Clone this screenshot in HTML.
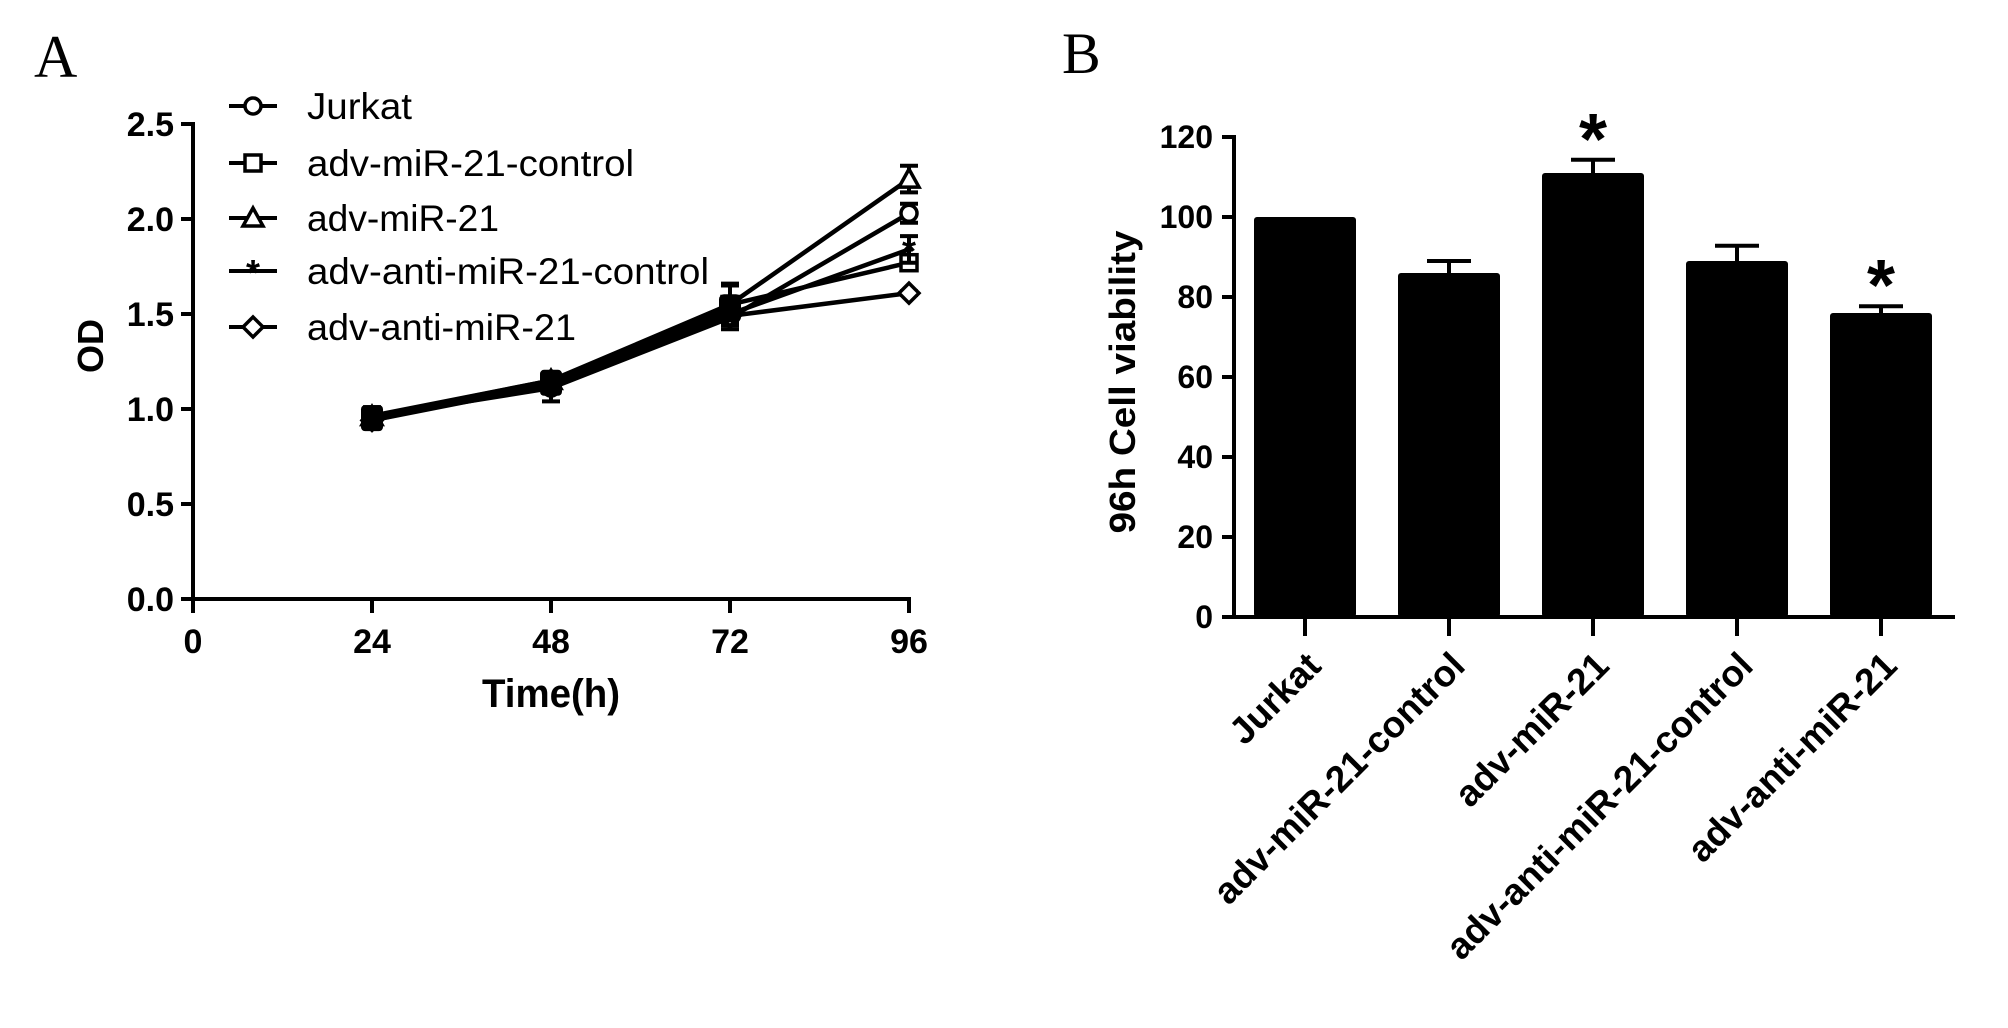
<!DOCTYPE html>
<html><head><meta charset="utf-8"><style>
html,body{margin:0;padding:0;background:#fff;}
svg{display:block;font-family:"Liberation Sans",Arial,sans-serif;}
</style></head><body>
<svg id="fig" width="2008" height="1028" viewBox="0 0 2008 1028" xmlns="http://www.w3.org/2000/svg">
<rect width="2008" height="1028" fill="#fff"/>
<text x="34" y="77" font-family="Liberation Serif,serif" font-size="60">A</text>
<text x="1062" y="73" font-family="Liberation Serif,serif" font-size="58">B</text>
<g id="chartA"></g>
<g id="chartB"></g>
</svg>
<script>
// ---------- Panel A data ----------
const timesA = [24, 48, 72, 96];
const xTicksA = [0, 24, 48, 72, 96];
const yTicksA = [0, 0.5, 1.0, 1.5, 2.0, 2.5];
const seriesNames = ["Jurkat", "adv-miR-21-control", "adv-miR-21", "adv-anti-miR-21-control", "adv-anti-miR-21"];
const jurkatVals = [0.96, 1.11, 1.48, 2.03];
const mirCtrlVals = [0.95, 1.14, 1.55, 1.77];
const mirVals = [0.96, 1.15, 1.55, 2.21];
const antiCtrlVals = [0.95, 1.15, 1.50, 1.84];
const antiVals = [0.94, 1.14, 1.49, 1.61];
const jurkatErr = [0.05, 0.07, 0.06, 0.05];
const mirCtrlErr = [0.03, 0.04, 0.10, 0.03];
const mirErr = [0.04, 0.04, 0.11, 0.07];
const antiCtrlErr = [0.03, 0.03, 0.05, 0.07];
const antiErr = [0.02, 0.03, 0.04, 0.01];
const legendWidths = [105, 327, 192, 402, 269];

// ---------- Panel B data ----------
const categoriesB = ["Jurkat", "adv-miR-21-control", "adv-miR-21", "adv-anti-miR-21-control", "adv-anti-miR-21"];
const valuesB = [100, 86, 111, 89, 76];
const errorsB = [0, 3, 3.3, 3.8, 1.7];
const signifB = [false, false, true, false, true];
const yTicksB = [0, 20, 40, 60, 80, 100, 120];

const NS = "http://www.w3.org/2000/svg";
function mk(parent, tag, attrs, text) {
  const e = document.createElementNS(NS, tag);
  for (const k in attrs) e.setAttribute(k, attrs[k]);
  if (text !== undefined) e.textContent = text;
  parent.appendChild(e);
  return e;
}

// ---------- Panel A ----------
const gA = document.getElementById('chartA');
const xA = t => 193 + t * (909 - 193) / 96;
const yA = v => 599 - v * 190;
let el;
el = mk(gA, 'line', {x1: 193, y1: yA(2.5) - 2, x2: 193, y2: 601, stroke: '#000', 'stroke-width': 4});


el = mk(gA, 'line', {x1: 191, y1: 599, x2: 911, y2: 599, stroke: '#000', 'stroke-width': 4});


yTicksA.forEach(v => {
  mk(gA, 'line', {x1: 181, y1: yA(v), x2: 193, y2: yA(v), stroke: '#000', 'stroke-width': 4});
  el = mk(gA, 'text', {x: 174, y: yA(v) + 12, 'text-anchor': 'end', 'font-size': 34, 'font-weight': 'bold'}, v.toFixed(1));
  
  
});
xTicksA.forEach(t => {
  mk(gA, 'line', {x1: xA(t), y1: 599, x2: xA(t), y2: 613, stroke: '#000', 'stroke-width': 4});
  el = mk(gA, 'text', {x: xA(t), y: 653, 'text-anchor': 'middle', 'font-size': 34, 'font-weight': 'bold'}, String(t));
  
  
});
el = mk(gA, 'text', {x: 551, y: 707, 'text-anchor': 'middle', 'font-size': 40, 'font-weight': 'bold', textLength: 138, lengthAdjust: 'spacingAndGlyphs'}, 'Time(h)');


el = mk(gA, 'text', {x: 0, y: 0, 'text-anchor': 'middle', 'font-size': 36, 'font-weight': 'bold', transform: 'translate(103,346) rotate(-90)'}, 'OD');



function marker(g, kind, cx, cy) {
  const s = {fill: '#fff', stroke: '#000', 'stroke-width': 3.5};
  if (kind === 0) return mk(g, 'circle', Object.assign({cx, cy, r: 8}, s));
  if (kind === 1) return mk(g, 'rect', Object.assign({x: cx - 8, y: cy - 8, width: 16, height: 16}, s));
  if (kind === 2) return mk(g, 'path', Object.assign({d: `M${cx},${cy - 10}L${cx + 10},${cy + 8}L${cx - 10},${cy + 8}Z`}, s));
  if (kind === 3) return mk(g, 'text', {x: cx, y: cy + 14, 'text-anchor': 'middle', 'font-size': 36, 'font-weight': 'bold'}, '*');
  return mk(g, 'path', Object.assign({d: `M${cx},${cy - 10}L${cx + 10},${cy}L${cx},${cy + 10}L${cx - 10},${cy}Z`}, s));
}

const allVals = [jurkatVals, mirCtrlVals, mirVals, antiCtrlVals, antiVals];
const allErr = [jurkatErr, mirCtrlErr, mirErr, antiCtrlErr, antiErr];
const seriesKeys = ['jurkat', 'mir-control', 'mir21', 'anti-control', 'anti-mir21'];
allVals.forEach((vals, si) => {
  const g = mk(gA, 'g', {});
  
  
  const pts = vals.map((v, i) => xA(timesA[i]) + ',' + yA(v)).join(' ');
  el = mk(g, 'polyline', {points: pts, fill: 'none', stroke: '#000', 'stroke-width': 4.5});
  
  
  vals.forEach((v, i) => {
    const x = xA(timesA[i]), e = allErr[si][i];
    el = mk(g, 'path', {d: `M${x},${yA(v + e)}V${yA(v - e)}M${x - 9},${yA(v + e)}H${x + 9}M${x - 9},${yA(v - e)}H${x + 9}`, stroke: '#000', 'stroke-width': 4, fill: 'none'});
    
    
    const m = marker(g, si, x, yA(v));
    
    
  });
});
// overlapping early segment appears thick
el = mk(gA, 'polyline', {points: [0,1,2].map(i => xA(timesA[i]) + ',' + yA(allVals.reduce((s, a) => s + a[i], 0) / allVals.length)).join(' '), fill: 'none', stroke: '#000', 'stroke-width': 9});


[0, 1].forEach(i => {
  const mean = allVals.reduce((s, a) => s + a[i], 0) / allVals.length;
  el = mk(gA, 'rect', {x: xA(timesA[i]) - 11, y: yA(mean) - 13, width: 22, height: 26, rx: 4, fill: '#000'});
  
  
});
el = mk(gA, 'rect', {x: xA(72) - 11, y: yA(1.53) - 14, width: 22, height: 28, rx: 5, fill: '#000'});



const legendY = [106, 163, 218, 271, 327];
seriesNames.forEach((n, i) => {
  const g = mk(gA, 'g', {});
  
  
  mk(g, 'line', {x1: 229, y1: legendY[i], x2: 277, y2: legendY[i], stroke: '#000', 'stroke-width': 4});
  marker(g, i, 253, legendY[i]);
  mk(g, 'text', {x: 307, y: legendY[i] + 13, 'font-size': 37, textLength: legendWidths[i], lengthAdjust: 'spacingAndGlyphs'}, n);
});

// ---------- Panel B ----------
const gB = document.getElementById('chartB');
const xB = i => 1305 + i * 144;
const yB = v => 617 - v * 4;
el = mk(gB, 'line', {x1: 1234, y1: yB(120) - 2, x2: 1234, y2: 619, stroke: '#000', 'stroke-width': 4});


el = mk(gB, 'line', {x1: 1222, y1: 617, x2: 1955, y2: 617, stroke: '#000', 'stroke-width': 4});


yTicksB.forEach(v => {
  mk(gB, 'line', {x1: 1222, y1: yB(v), x2: 1234, y2: yB(v), stroke: '#000', 'stroke-width': 4});
  el = mk(gB, 'text', {x: 1213, y: yB(v) + 11, 'text-anchor': 'end', 'font-size': 32, 'font-weight': 'bold'}, String(v));
  
  
});
el = mk(gB, 'text', {x: 0, y: 0, 'text-anchor': 'middle', 'font-size': 36, 'font-weight': 'bold', textLength: 303, lengthAdjust: 'spacingAndGlyphs', transform: 'translate(1135,382) rotate(-90)'}, '96h Cell viability');


categoriesB.forEach((c, i) => {
  const cx = xB(i), v = valuesB[i], e = errorsB[i];
  if (e > 0) {
    el = mk(gB, 'path', {d: `M${cx},${yB(v)}V${yB(v + e)}M${cx - 22},${yB(v + e)}H${cx + 22}`, stroke: '#000', 'stroke-width': 4, fill: 'none'});
    
    
  }
  el = mk(gB, 'rect', {x: cx - 51, y: yB(v), width: 102, height: yB(0) - yB(v), rx: 3, fill: '#000'});
  
  
  mk(gB, 'line', {x1: cx, y1: 617, x2: cx, y2: 636, stroke: '#000', 'stroke-width': 4});
  el = mk(gB, 'text', {x: 0, y: 0, 'text-anchor': 'end', 'font-size': 37, 'font-weight': 'bold', transform: `translate(${cx + 18},${668}) rotate(-45)`}, c);
  
  
  if (signifB[i]) {
    el = mk(gB, 'text', {x: cx, y: yB(v + e) + 4, 'text-anchor': 'middle', 'font-size': 72, 'font-weight': 'bold'}, '*');
    
    
  }
});
</script>
</body></html>
